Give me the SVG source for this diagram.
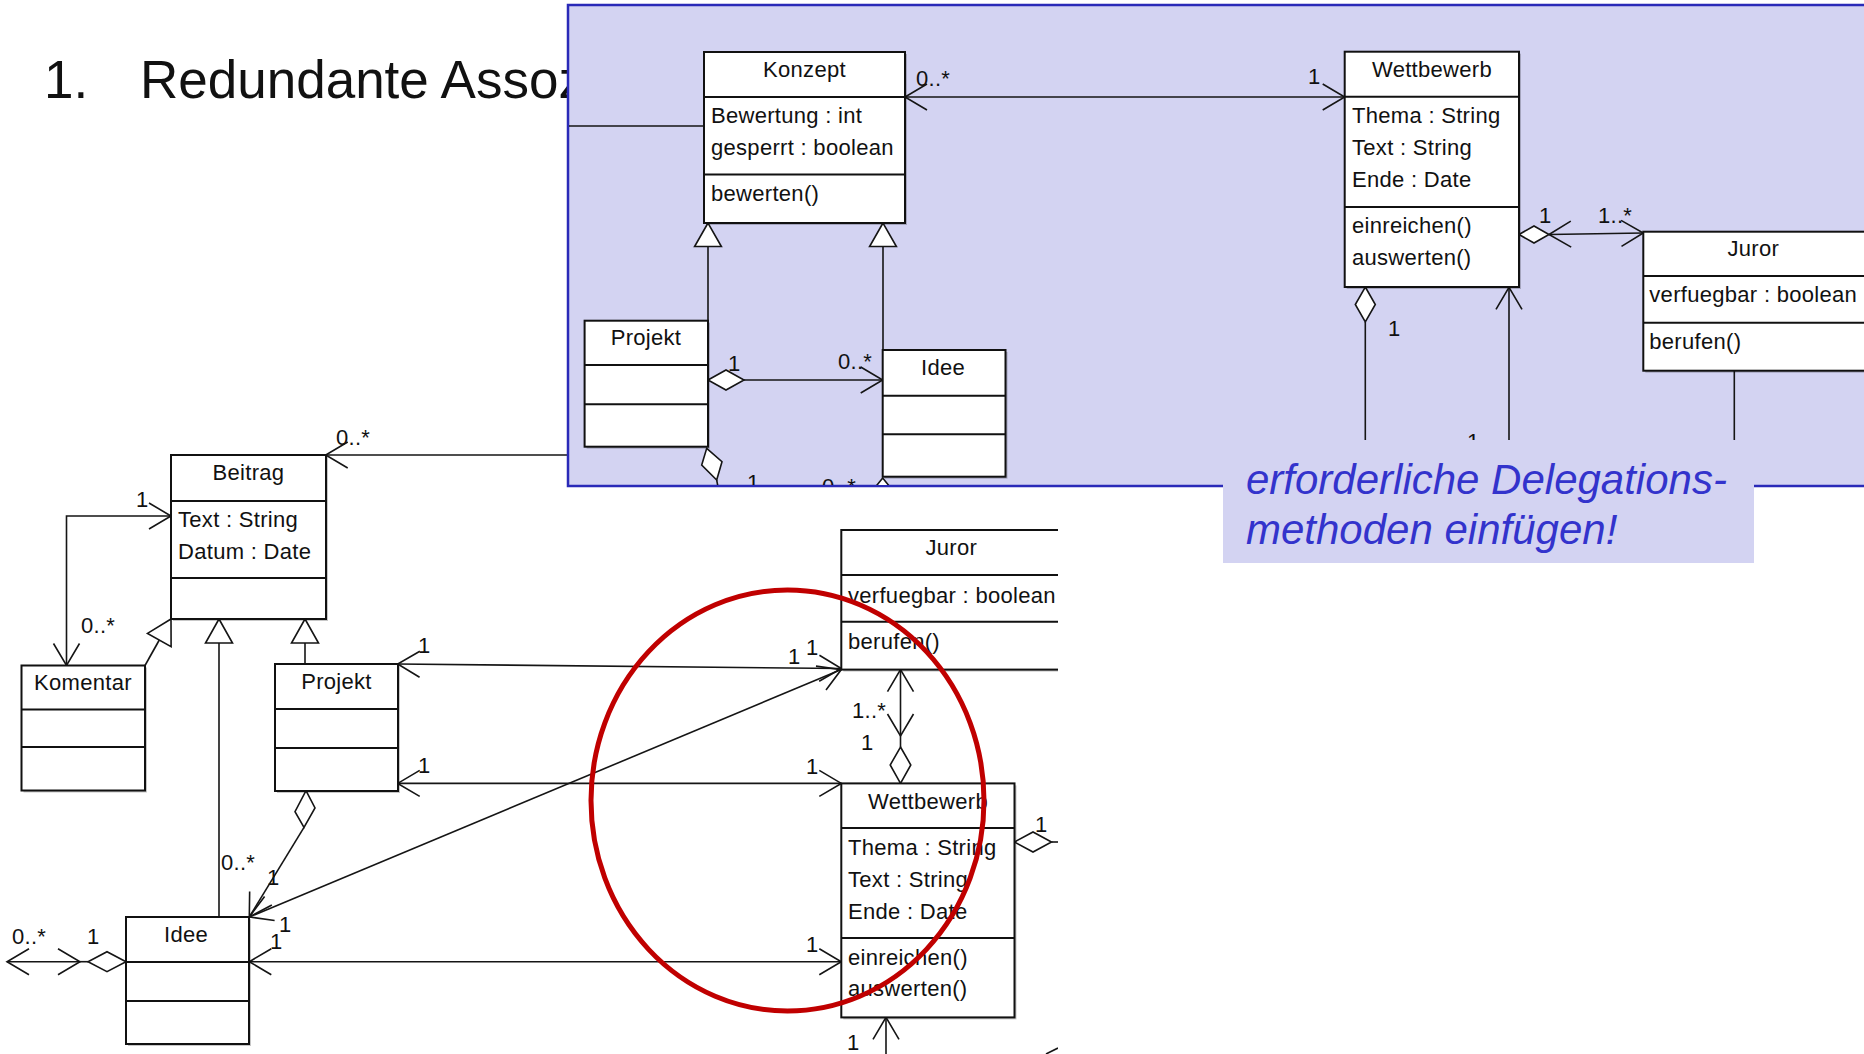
<svg xmlns="http://www.w3.org/2000/svg" width="1864" height="1054" viewBox="0 0 1864 1054">
  <defs>
    <style>
      .box { fill: #ffffff; stroke: #111111; stroke-width: 2; }
      .sh { fill: #000000; opacity: 0.22; }
      .dv { stroke: #111111; stroke-width: 2; fill: none; }
      .t { font-family: "Liberation Sans", Arial, sans-serif; font-size: 22px; fill: #111111; letter-spacing: 0.3px; }
      .c { text-anchor: middle; }
      .ln { stroke: #151515; stroke-width: 1.6; fill: none; }
      .head { stroke: #151515; stroke-width: 1.6; fill: none; marker-end: url(#arr); }
      .both { stroke: #151515; stroke-width: 1.6; fill: none; marker-start: url(#arr); marker-end: url(#arr); }
      .dia { fill: #ffffff; stroke: #151515; stroke-width: 1.6; }
      .title { font-family: "Liberation Sans", Arial, sans-serif; font-size: 53px; fill: #111111; }
      .note { font-family: "Liberation Sans", Arial, sans-serif; font-size: 42px; font-style: italic; fill: #3333cc; }
      .lav { fill: #d3d3f2; }
    </style>
    <!-- open UML navigability arrowhead -->
    <marker id="arr" markerUnits="userSpaceOnUse" viewBox="-26 -16 30 32" markerWidth="30" markerHeight="32" refX="0" refY="0" orient="auto-start-reverse" overflow="visible">
      <path d="M-22,-13 L0,0 L-22,13" fill="none" stroke="#151515" stroke-width="1.6"/>
    </marker>
    <clipPath id="clipLower"><rect x="0" y="0" width="1058" height="1054"/></clipPath>
    <clipPath id="clipPanel"><rect x="569" y="6" width="1295" height="479"/></clipPath>
  </defs>

  <rect x="0" y="0" width="1864" height="1054" fill="#ffffff"/>

  <!-- heading -->
  <text class="title" x="44" y="98">1.</text>
  <text class="title" x="140" y="98">Redundante Assoz</text>

  <!-- ===== lower class diagram ===== -->
  <g clip-path="url(#clipLower)">
    <g id="connectors-lower">
      <!-- Beitrag : Konzept -->
      <line class="head" x1="568" y1="455" x2="325.7" y2="455"/>
      <text class="t" x="336" y="445">0..*</text>
      <!-- Beitrag : Komentar -->
      <polyline class="both" points="171,516 66.5,516 66.5,665.5"/>
      <text class="t" x="136" y="507">1</text>
      <text class="t" x="81" y="633">0..*</text>
      <!-- Komentar generalisation -->
      <line class="ln" x1="159.3" y1="640" x2="145" y2="665.5"/>
      <polygon class="dia" points="171,619 147.5,633.4 171.1,646.6"/>
      <!-- Idee generalisation -->
      <line class="ln" x1="219" y1="643" x2="219" y2="917"/>
      <polygon class="dia" points="219,619 205.5,643 232.5,643"/>
      <!-- Projekt generalisation -->
      <line class="ln" x1="305" y1="643" x2="305" y2="664"/>
      <polygon class="dia" points="305,619 291.5,643 318.5,643"/>
      <!-- Projekt : Juror -->
      <line class="both" x1="397.7" y1="664" x2="841.3" y2="668.5"/>
      <text class="t" x="418" y="653">1</text>
      <text class="t" x="806" y="655">1</text>
      <!-- Idee : Juror -->
      <line class="both" x1="249.3" y1="917" x2="841.3" y2="669.6"/>
      <text class="t" x="279" y="932">1</text>
      <text class="t" x="788" y="664">1</text>
      <!-- Projekt : Wettbewerb -->
      <line class="both" x1="397.7" y1="783.4" x2="841.3" y2="783.4"/>
      <text class="t" x="418" y="773">1</text>
      <text class="t" x="806" y="774">1</text>
      <!-- Idee : Wettbewerb -->
      <line class="both" x1="249.3" y1="961.7" x2="841.3" y2="961.7"/>
      <text class="t" x="270" y="949">1</text>
      <text class="t" x="806" y="952">1</text>
      <!-- Projekt aggregates Idee -->
      <polygon class="dia" points="306,790.7 315,808 304,827.3 295,811.7"/>
      <line class="head" x1="304" y1="827.3" x2="249.3" y2="917"/>
      <text class="t" x="221" y="870">0..*</text>
      <text class="t" x="267" y="885">1</text>
      <!-- Idee aggregation to the left -->
      <polygon class="dia" points="126,961.7 107,951.7 88,961.7 107,971.7"/>
      <line class="both" x1="7" y1="961.7" x2="80" y2="961.7"/>
      <line class="ln" x1="80" y1="961.7" x2="88" y2="961.7"/>
      <text class="t" x="12" y="944">0..*</text>
      <text class="t" x="87" y="944">1</text>
      <!-- Juror : Wettbewerb -->
      <line class="both" x1="900.5" y1="669.6" x2="900.5" y2="736"/>
      <line class="ln" x1="900.5" y1="736" x2="900.5" y2="747"/>
      <polygon class="dia" points="900.5,747 910.8,765 900.5,783.4 890.2,765"/>
      <text class="t" x="852" y="718">1..*</text>
      <text class="t" x="861" y="750">1</text>
      <!-- Wettbewerb aggregation to the right -->
      <polygon class="dia" points="1014.5,842 1033,832 1051.5,842 1033,852"/>
      <line class="ln" x1="1051.5" y1="842" x2="1062" y2="842"/>
      <text class="t" x="1035" y="832">1</text>
      <!-- Wettbewerb from below -->
      <line class="head" x1="886" y1="1056" x2="886" y2="1017.3"/>
      <text class="t" x="847" y="1050">1</text>
      <line class="ln" x1="1046" y1="1054" x2="1058" y2="1048"/>
    </g>

    <g id="Beitrag">
      <rect class="sh" x="173" y="457" width="155" height="164"/>
      <rect class="box" x="171" y="455" width="155" height="164"/>
      <line class="dv" x1="171" y1="501" x2="326" y2="501"/>
      <line class="dv" x1="171" y1="578" x2="326" y2="578"/>
      <text class="t c" x="248.5" y="480">Beitrag</text>
      <text class="t" x="178" y="527">Text : String</text>
      <text class="t" x="178" y="559">Datum : Date</text>
    </g>
    <g id="Komentar">
      <rect class="sh" x="23.5" y="667.5" width="123.5" height="125"/>
      <rect class="box" x="21.5" y="665.5" width="123.5" height="125"/>
      <line class="dv" x1="21.5" y1="709.5" x2="145" y2="709.5"/>
      <line class="dv" x1="21.5" y1="747" x2="145" y2="747"/>
      <text class="t c" x="83" y="690">Komentar</text>
    </g>
    <g id="Projekt">
      <rect class="sh" x="277" y="666" width="123" height="127"/>
      <rect class="box" x="275" y="664" width="123" height="127"/>
      <line class="dv" x1="275" y1="709" x2="398" y2="709"/>
      <line class="dv" x1="275" y1="748" x2="398" y2="748"/>
      <text class="t c" x="336.5" y="689">Projekt</text>
    </g>
    <g id="Idee">
      <rect class="sh" x="128" y="919" width="123" height="127"/>
      <rect class="box" x="126" y="917" width="123" height="127"/>
      <line class="dv" x1="126" y1="962" x2="249" y2="962"/>
      <line class="dv" x1="126" y1="1001" x2="249" y2="1001"/>
      <text class="t c" x="186" y="942">Idee</text>
    </g>
    <g id="Juror">
      <rect class="sh" x="843.3" y="532" width="220" height="139.6"/>
      <rect class="box" x="841.3" y="530" width="220" height="139.6"/>
      <line class="dv" x1="841.3" y1="575" x2="1061.3" y2="575"/>
      <line class="dv" x1="841.3" y1="621.7" x2="1061.3" y2="621.7"/>
      <text class="t c" x="951.3" y="555">Juror</text>
      <text class="t" x="848" y="602.5">verfuegbar : boolean</text>
      <text class="t" x="848" y="648.5">berufen()</text>
    </g>
    <g id="Wettbewerb">
      <rect class="sh" x="843.3" y="785.4" width="173.2" height="234"/>
      <rect class="box" x="841.3" y="783.4" width="173.2" height="234"/>
      <line class="dv" x1="841.3" y1="828" x2="1014.5" y2="828"/>
      <line class="dv" x1="841.3" y1="938" x2="1014.5" y2="938"/>
      <text class="t c" x="928" y="808.5">Wettbewerb</text>
      <text class="t" x="848" y="854.5">Thema : String</text>
      <text class="t" x="848" y="886.5">Text : String</text>
      <text class="t" x="848" y="918.5">Ende : Date</text>
      <text class="t" x="848" y="964.5">einreichen()</text>
      <text class="t" x="848" y="996">auswerten()</text>
    </g>
  </g>

  <!-- red marking ring -->
  <ellipse cx="787.5" cy="800.5" rx="196.5" ry="210.5" fill="none" stroke="#c00000" stroke-width="5"/>

  <!-- ===== refactored diagram on lavender panel ===== -->
  <rect class="lav" x="568" y="5" width="1310" height="481" stroke="#2a2ab8" stroke-width="2.5"/>
  <g clip-path="url(#clipPanel)">
    <g id="connectors-panel">
      <line class="ln" x1="566" y1="126" x2="704" y2="126"/>
      <!-- Konzept : Wettbewerb -->
      <line class="both" x1="905" y1="97" x2="1344.7" y2="97"/>
      <text class="t" x="916" y="86">0..*</text>
      <text class="t" x="1308" y="84">1</text>
      <!-- generalisations to Konzept -->
      <line class="ln" x1="708" y1="246.5" x2="708" y2="320.7"/>
      <polygon class="dia" points="708,223 694.6,246.5 721.4,246.5"/>
      <line class="ln" x1="883" y1="246.5" x2="883" y2="350"/>
      <polygon class="dia" points="883,223 869.6,246.5 896.4,246.5"/>
      <!-- Projekt aggregates Idee -->
      <polygon class="dia" points="708,380 726,370 744,380 726,390"/>
      <line class="head" x1="744" y1="380" x2="882.7" y2="380"/>
      <text class="t" x="728" y="371">1</text>
      <text class="t" x="838" y="369">0..*</text>
      <!-- Projekt aggregation below -->
      <polygon class="dia" points="706.7,448.3 722,461.7 716.7,480 701.7,465"/>
      <line class="ln" x1="716.7" y1="480" x2="719" y2="492"/>
      <text class="t" x="747" y="490">1</text>
      <text class="t" x="822" y="494">0..*</text>
      <polygon class="dia" points="882.7,478 873,490 882.7,502 892.4,490"/>
      <!-- Wettbewerb aggregates Juror -->
      <polygon class="dia" points="1519,234.5 1534,226 1549,234.5 1534,243"/>
      <line class="both" x1="1549" y1="234.5" x2="1643.3" y2="233" stroke-width="2.4"/>
      <text class="t" x="1539" y="223">1</text>
      <text class="t" x="1598" y="223">1..*</text>
      <!-- Wettbewerb links below -->
      <polygon class="dia" points="1365.3,287 1375.3,304.5 1365.3,322 1355.3,304.5"/>
      <line class="ln" x1="1365.3" y1="322" x2="1365.3" y2="445"/>
      <text class="t" x="1388" y="336">1</text>
      <line class="head" x1="1509" y1="445" x2="1509" y2="287.3"/>
      <text class="t" x="1467" y="449">1</text>
      <line class="ln" x1="1734.3" y1="370.7" x2="1734.3" y2="445"/>
    </g>

    <g id="Konzept">
      <rect class="sh" x="706" y="54" width="201" height="171"/>
      <rect class="box" x="704" y="52" width="201" height="171"/>
      <line class="dv" x1="704" y1="97" x2="905" y2="97"/>
      <line class="dv" x1="704" y1="174.5" x2="905" y2="174.5"/>
      <text class="t c" x="804.5" y="77">Konzept</text>
      <text class="t" x="711" y="123">Bewertung : int</text>
      <text class="t" x="711" y="155">gesperrt : boolean</text>
      <text class="t" x="711" y="201">bewerten()</text>
    </g>
    <g id="Projekt-panel">
      <rect class="sh" x="586.6" y="322.7" width="123.4" height="126"/>
      <rect class="box" x="584.6" y="320.7" width="123.4" height="126"/>
      <line class="dv" x1="584.6" y1="365" x2="708" y2="365"/>
      <line class="dv" x1="584.6" y1="404.3" x2="708" y2="404.3"/>
      <text class="t c" x="646" y="345">Projekt</text>
    </g>
    <g id="Idee-panel">
      <rect class="sh" x="884.7" y="352" width="122.8" height="126.7"/>
      <rect class="box" x="882.7" y="350" width="122.8" height="126.7"/>
      <line class="dv" x1="882.7" y1="395.7" x2="1005.5" y2="395.7"/>
      <line class="dv" x1="882.7" y1="434.3" x2="1005.5" y2="434.3"/>
      <text class="t c" x="943" y="375">Idee</text>
    </g>
    <g id="Wettbewerb-panel">
      <rect class="sh" x="1346.7" y="53.7" width="174.3" height="235.3"/>
      <rect class="box" x="1344.7" y="51.7" width="174.3" height="235.3"/>
      <line class="dv" x1="1344.7" y1="96.7" x2="1519" y2="96.7"/>
      <line class="dv" x1="1344.7" y1="207" x2="1519" y2="207"/>
      <text class="t c" x="1432" y="76.5">Wettbewerb</text>
      <text class="t" x="1352" y="123.3">Thema : String</text>
      <text class="t" x="1352" y="155.3">Text : String</text>
      <text class="t" x="1352" y="187.3">Ende : Date</text>
      <text class="t" x="1352" y="233.3">einreichen()</text>
      <text class="t" x="1352" y="264.5">auswerten()</text>
    </g>
    <g id="Juror-panel">
      <rect class="sh" x="1645.3" y="233.7" width="230" height="139"/>
      <rect class="box" x="1643.3" y="231.7" width="230" height="139"/>
      <line class="dv" x1="1643.3" y1="276" x2="1873.3" y2="276"/>
      <line class="dv" x1="1643.3" y1="322.7" x2="1873.3" y2="322.7"/>
      <text class="t c" x="1753.3" y="256">Juror</text>
      <text class="t" x="1649.3" y="301.7">verfuegbar : boolean</text>
      <text class="t" x="1649.3" y="349">berufen()</text>
    </g>
  </g>

  <!-- note box -->
  <g id="note">
    <rect class="lav" x="1223" y="440" width="531" height="123"/>
    <text class="note" x="1246" y="494">erforderliche Delegations-</text>
    <text class="note" x="1246" y="544">methoden einfügen!</text>
  </g>
</svg>
